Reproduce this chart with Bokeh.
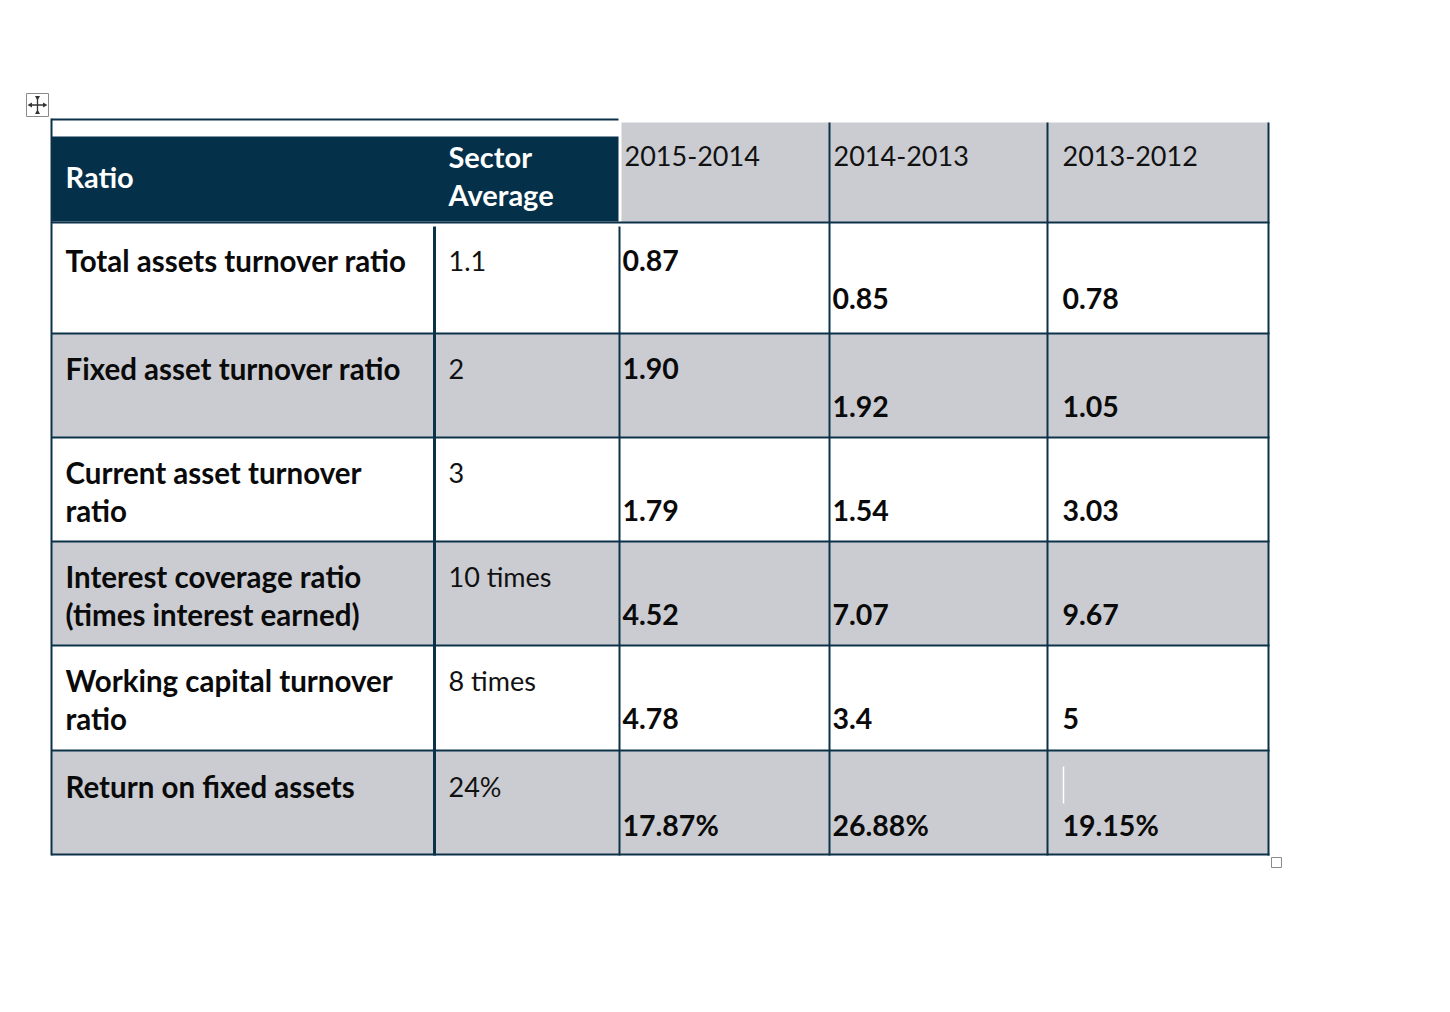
from bokeh.plotting import figure
from bokeh.models import Range1d
from bokeh.core.properties import value
from bokeh.embed import file_html
from bokeh.resources import INLINE

# ---------------- data ----------------
header_ratio = "Ratio"
header_sector = ["Sector", "Average"]
periods = ["2015-2014", "2014-2013", "2013-2012"]
ratio_names = [
    ["Total assets turnover ratio"],
    ["Fixed asset turnover ratio"],
    ["Current asset turnover", "ratio"],
    ["Interest coverage ratio", "(times interest earned)"],
    ["Working capital turnover", "ratio"],
    ["Return on fixed assets"],
]
sector_average = ["1.1", "2", "3", "10 times", "8 times", "24%"]
values_2015_2014 = ["0.87", "1.90", "1.79", "4.52", "4.78", "17.87%"]
values_2014_2013 = ["0.85", "1.92", "1.54", "7.07", "3.4", "26.88%"]
values_2013_2012 = ["0.78", "1.05", "3.03", "9.67", "5", "19.15%"]

# ---------------- layout (pixel geometry) ----------------
W, H = 1434, 996
NAVY = "#04304a"
GRAY = "#cbccd1"
LINE = "#0c3249"
FONT = value("Lato")

col_x = [51, 434, 619, 829, 1047, 1268]
row_y = [222, 333, 437, 541, 645, 750, 854]
text_top = [225, 333, 437, 541, 645, 751]
text_dx = [14, 14, 3, 3, 15]
line_off = [35, 73]
# which text line each period value sits on, per row
value_line = [[0, 1, 1], [0, 1, 1], [1, 1, 1], [1, 1, 1], [1, 1, 1], [1, 1, 1]]

p = figure(width=W, height=H, x_range=Range1d(0, W), y_range=Range1d(H, 0),
           output_backend="svg", toolbar_location=None, min_border=0)
p.axis.visible = False
p.grid.visible = False
p.outline_line_color = None
p.background_fill_color = "white"

# backgrounds
p.quad(left=[51], right=[618], top=[136], bottom=[221], fill_color=NAVY, line_color=None)
p.quad(left=[621], right=[1268], top=[122], bottom=[222], fill_color=GRAY, line_color=None)
gl, gr, gt, gb = [], [], [], []
for i in range(len(ratio_names)):
    if i % 2 == 1:
        gl.append(51); gr.append(1268); gt.append(row_y[i]); gb.append(row_y[i + 1])
p.quad(left=gl, right=gr, top=gt, bottom=gb, fill_color=GRAY, line_color=None)

# grid lines
x0s, y0s, x1s, y1s = [], [], [], []
for y in row_y:
    x0s.append(51); x1s.append(1269); y0s.append(y); y1s.append(y)
p.segment(x0=x0s, y0=y0s, x1=x1s, y1=y1s, line_color=LINE, line_width=2)
p.segment(x0=[51], y0=[119], x1=[618], y1=[119], line_color=LINE, line_width=2)
p.segment(x0=[51], y0=[118], x1=[51], y1=[855], line_color=LINE, line_width=2)
p.segment(x0=[434], y0=[226], x1=[434], y1=[855], line_color=LINE, line_width=3)
p.segment(x0=[619], y0=[226], x1=[619], y1=[855], line_color=LINE, line_width=2)
p.segment(x0=[829, 1047, 1268], y0=[122, 122, 122], x1=[829, 1047, 1268], y1=[855, 855, 855],
          line_color=LINE, line_width=2)

# header texts
p.text(x=[65], y=[176], text=[header_ratio], text_color="white", text_font=FONT,
       text_font_style="bold", text_font_size="29px", text_baseline="middle")
p.text(x=[448, 448], y=[156, 194], text=header_sector, text_color="white", text_font=FONT,
       text_font_style="bold", text_font_size="29px", text_baseline="middle")
p.text(x=[col_x[2] + text_dx[2] + 2, col_x[3] + text_dx[3] + 1, col_x[4] + text_dx[4]], y=[155] * 3,
       text=periods, text_color="#111111", text_font=FONT, text_font_size="27px",
       text_baseline="middle")

# body texts
nx, ny, nt = [], [], []
sx, sy, st = [], [], []
vx, vy, vt = [], [], []
cols = [values_2015_2014, values_2014_2013, values_2013_2012]
for i, names in enumerate(ratio_names):
    for k, line in enumerate(names):
        nx.append(col_x[0] + text_dx[0]); ny.append(text_top[i] + line_off[k]); nt.append(line)
    sx.append(col_x[1] + text_dx[1]); sy.append(text_top[i] + line_off[0]); st.append(sector_average[i])
    for j, c in enumerate(cols):
        vx.append(col_x[2 + j] + text_dx[2 + j]); vy.append(text_top[i] + line_off[value_line[i][j]])
        vt.append(c[i])

p.text(x=nx, y=ny, text=nt, text_color="#0a0a0a", text_font=FONT, text_font_style="bold",
       text_font_size="29.5px", text_baseline="middle")
p.text(x=sx, y=sy, text=st, text_color="#111111", text_font=FONT,
       text_font_size="27px", text_baseline="middle")
p.text(x=vx, y=vy, text=vt, text_color="#0a0a0a", text_font=FONT, text_font_style="bold",
       text_font_size="28.5px", text_baseline="middle")

# cursor mark in last cell
p.segment(x0=[1063], y0=[766], x1=[1063], y1=[803], line_color="white", line_width=1.5)

# move handle icon (top-left) and resize handle (bottom-right)
p.quad(left=[26], right=[48], top=[93], bottom=[116], fill_color="white",
       line_color="#8a8a8a", line_width=1)
p.segment(x0=[30, 37], y0=[104.5, 97], x1=[44, 37], y1=[104.5, 112], line_color="#333333", line_width=1.3)
p.triangle(x=[30, 44], y=[104.5, 104.5], size=5, angle=[1.5708, -1.5708], fill_color="#333333", line_color=None)
p.triangle(x=[37, 37], y=[97, 112], size=5, angle=[3.14159, 0], fill_color="#333333", line_color=None)
p.quad(left=[1271], right=[1281], top=[857], bottom=[867], fill_color="white",
       line_color="#8a8a8a", line_width=1)

open("out.html", "w").write(file_html(p, INLINE))
